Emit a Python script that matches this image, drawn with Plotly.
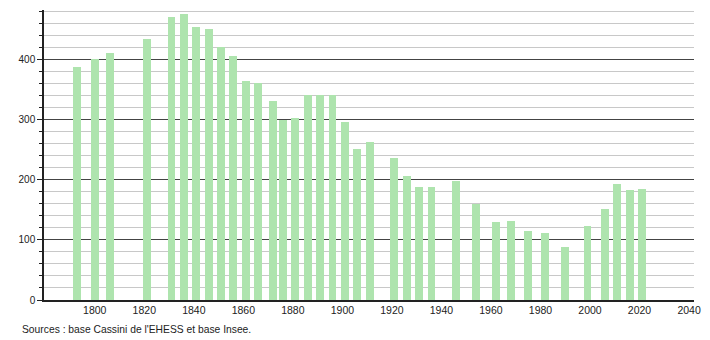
import plotly.graph_objects as go

years = [1793, 1800, 1806, 1821, 1831, 1836, 1841, 1846, 1851, 1856, 1861, 1866,
         1872, 1876, 1881, 1886, 1891, 1896, 1901, 1906, 1911, 1921, 1926, 1931,
         1936, 1946, 1954, 1962, 1968, 1975, 1982, 1990, 1999, 2006, 2011, 2016, 2021]
population = [387, 400, 411, 434, 470, 475, 454, 450, 420, 405, 364, 360,
              331, 300, 303, 340, 340, 340, 296, 251, 263, 236, 206, 187,
              188, 198, 159, 130, 131, 115, 111, 88, 123, 151, 193, 183, 184]
x_ticks = [1800, 1820, 1840, 1860, 1880, 1900, 1920, 1940, 1960, 1980, 2000, 2020, 2040]
source_text = "Sources : base Cassini de l'EHESS et base Insee."

fig = go.Figure()
fig.add_trace(go.Bar(x=years, y=population, width=3.2,
                     marker=dict(color="#aee4ae", line=dict(width=0)),
                     hoverinfo="x+y"))

fig.update_layout(
    width=710, height=340,
    margin=dict(l=44, r=9, t=10, b=40),
    plot_bgcolor="white", paper_bgcolor="white",
    font=dict(family="Liberation Sans, Arial, sans-serif", size=10, color="#222"),
    showlegend=False,
    bargap=0,
    xaxis=dict(range=[1779.5, 2042], tickmode="array", tickvals=x_ticks,
               ticks="", showgrid=False, zeroline=False,
               showline=True, linecolor="#222", linewidth=1.5,
               tickfont=dict(size=10.5)),
    yaxis=dict(range=[0, 482], dtick=100, tick0=0,
               showgrid=True, gridcolor="#444", gridwidth=1,
               ticks="outside", ticklen=5, tickcolor="#222",
               showline=True, linecolor="#222", linewidth=1.5,
               zeroline=False, tickfont=dict(size=10),
               minor=dict(dtick=20, tick0=0, showgrid=True, gridcolor="#c8c8c8",
                          gridwidth=1, ticks="outside", ticklen=3, tickcolor="#222")),
    annotations=[dict(text=source_text, xref="paper", yref="paper",
                      x=-24/657, y=0.0, xanchor="left", yanchor="top",
                      yshift=-22, showarrow=False, font=dict(size=10.3, color="#222"))],
)

fig.write_html("out.html")
